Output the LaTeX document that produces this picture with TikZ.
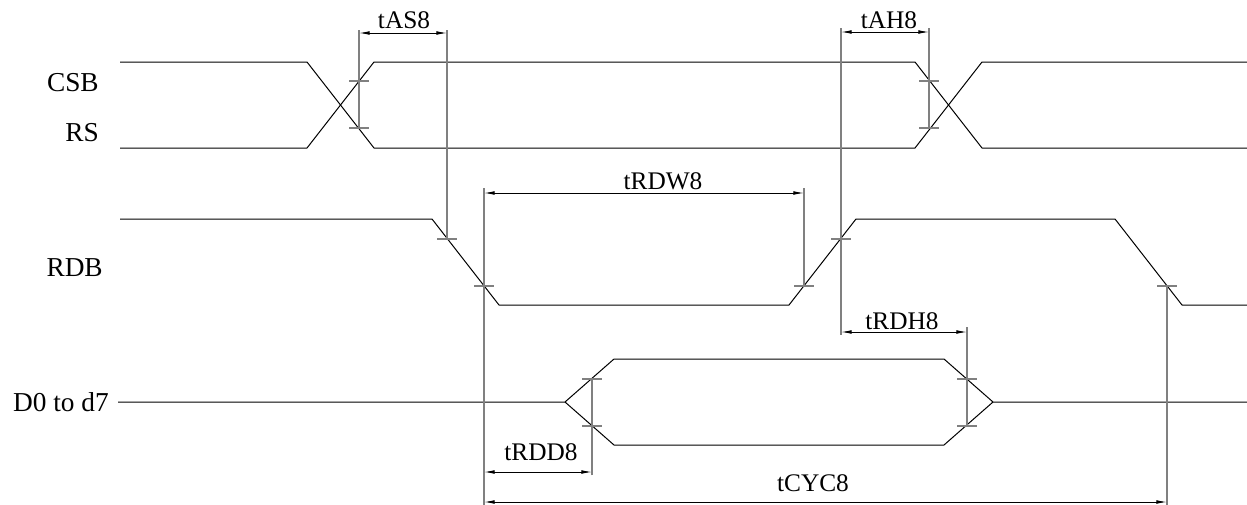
\documentclass[tikz,border=0pt]{standalone}
\usepackage{fontspec}
\setmainfont{Liberation Serif}
\usetikzlibrary{arrows.meta}

\begin{document}
\begin{tikzpicture}[x=0.75pt, y=-0.75pt, >={Latex[length=8pt,width=2.8pt]},
        sig/.style={line width=0.75pt},
        ext/.style={draw=gray, line width=1pt},
        dimline/.style={<->, line width=0.7pt},
        lbl/.style={inner sep=0pt, font=\fontsize{19}{22}\selectfont},
        signame/.style={inner sep=0pt, anchor=east, font=\fontsize{20.5}{24}\selectfont}]
    \useasboundingbox (0,0) rectangle (1247,504);

    % signal names
    \node[signame] (csb) at (99,83) {CSB};
    \node[signame] (rs) at (99,133) {RS};
    \node[signame] (rdb) at (103,268) {RDB};
    \node[signame] (dbus) at (109,402) {D0 to d7};

    % waveforms
    \draw[sig] (120,62) -- (307,62) -- (374,148) -- (915,148) -- (982,62) -- (1247,62);
    \draw[sig] (120,148) -- (307,148) -- (374,62) -- (915,62) -- (982,148) -- (1247,148);
    \draw[sig] (120,219) -- (432,219) -- (499,305) -- (789,305) -- (856,219) -- (1115,219) -- (1182,305) -- (1247,305);
    \draw[sig] (118,402) -- (565,402) -- (614,359) -- (944,359) -- (993,402) -- (1247,402);
    \draw[sig] (565,402) -- (614,445) -- (944,445) -- (993,402);

    % tick marks on the edges
    \foreach \n/\x/\y in {a1/359/81, a2/359/128, h1/929/81, h2/929/128,
            r1/447/239, r2/484/286, r3/804/286, r4/841/239, r5/1167/286,
            d1/592/379, d2/592/426, d3/967/379, d4/967/426} {
        \coordinate (\n) at (\x,\y);
        \draw[ext] (\x-10,\y) -- (\x+10,\y);
    }

    % dimension ends
    \coordinate (asL) at (359,33);  \coordinate (asR) at (447,33);
    \coordinate (ahL) at (841,32);  \coordinate (ahR) at (929,32);
    \coordinate (rwL) at (484,193); \coordinate (rwR) at (804,193);
    \coordinate (rhL) at (841,332); \coordinate (rhR) at (967,332);
    \coordinate (rdL) at (484,472); \coordinate (rdR) at (592,472);
    \coordinate (cyL) at (484,502); \coordinate (cyR) at (1167,502);

    % extension lines
    \draw[ext] (a2) -- ([yshift=2.5pt]asL);
    \draw[ext] (r1) -- ([yshift=2.5pt]asR);
    \draw[ext] (h2) -- ([yshift=3pt]ahR);
    \draw[ext] ([yshift=-2pt]rhL) -- ([yshift=3pt]ahL);
    \draw[ext] ([yshift=-2pt]cyL) -- ([yshift=3.5pt]rwL);
    \draw[ext] (r3) -- ([yshift=3.5pt]rwR);
    \draw[ext] (d4) -- ([yshift=3.5pt]rhR);
    \draw[ext] ([yshift=-2.5pt]rdR) -- (d1);
    \draw[ext] ([yshift=-2pt]cyR) -- (r5);

    % dimensions
    \draw[dimline] (asL) -- (asR);
    \draw[dimline] (ahL) -- (ahR);
    \draw[dimline] (rwL) -- (rwR);
    \draw[dimline] (rhL) -- (rhR);
    \draw[dimline] (rdL) -- (rdR);
    \draw[dimline] (cyL) -- (cyR);

    \node[lbl] (tas) at (404,20) {tAS8};
    \node[lbl] (tah) at (889,20) {tAH8};
    \node[lbl] (trdw) at (663,181) {tRDW8};
    \node[lbl] (trdh) at (902,321) {tRDH8};
    \node[lbl] (trdd) at (541,452) {tRDD8};
    \node[lbl] (tcyc) at (813,483) {tCYC8};
\end{tikzpicture}
\end{document}
